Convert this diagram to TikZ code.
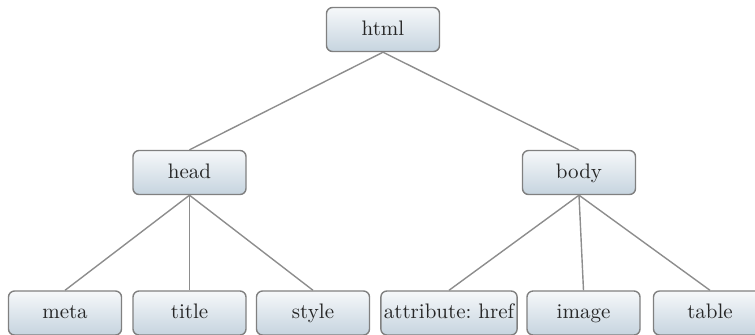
\documentclass[tikz,border=0pt]{standalone}
\usepackage{tikz}
\usetikzlibrary{positioning}
\definecolor{tagtop}{RGB}{246,248,250}
\definecolor{tagbottom}{RGB}{198,212,223}
\definecolor{tagline}{RGB}{128,128,128}
\tikzset{
    tag/.style={rectangle, rounded corners=3pt, draw=tagline, line width=0.7pt,
        top color=tagtop, bottom color=tagbottom,
        minimum width=56.5pt, minimum height=22pt, inner xsep=1.5pt,
        text height=1.6ex, text depth=0.3ex,
        font=\fontsize{10.5}{12}\selectfont, text=black!85},
    link/.style={draw=tagline!90, line width=0.7pt},
}
\frenchspacing

\begin{document}
\begin{tikzpicture}[x=0.5pt, y=-0.5pt]
    \useasboundingbox (0,0) rectangle (755,334);
        \node[tag] (html) at (383,29.5) {html};
        \node[tag] (head) at (189.5,172.5) {head};
        \node[tag] (body) at (579,172.5) {body};
        \node[tag] (meta) at (65,313) {meta};
        \node[tag] (title) at (189.5,313) {title};
        \node[tag] (style) at (313,313) {style};
        \node[tag] (attr) at (449,313) {attribute: href};
        \node[tag] (image) at (583.5,313) {image};
        \node[tag] (table) at (710,313) {table};

    \path[link]
        (html.south) edge (head.north)
            edge (body.north)
        (head.south) edge (meta.north)
            edge (title.north)
            edge (style.north)
        (body.south) edge (attr.north)
            edge (image.north)
            edge (table.north);
    \end{tikzpicture}
\end{document}
